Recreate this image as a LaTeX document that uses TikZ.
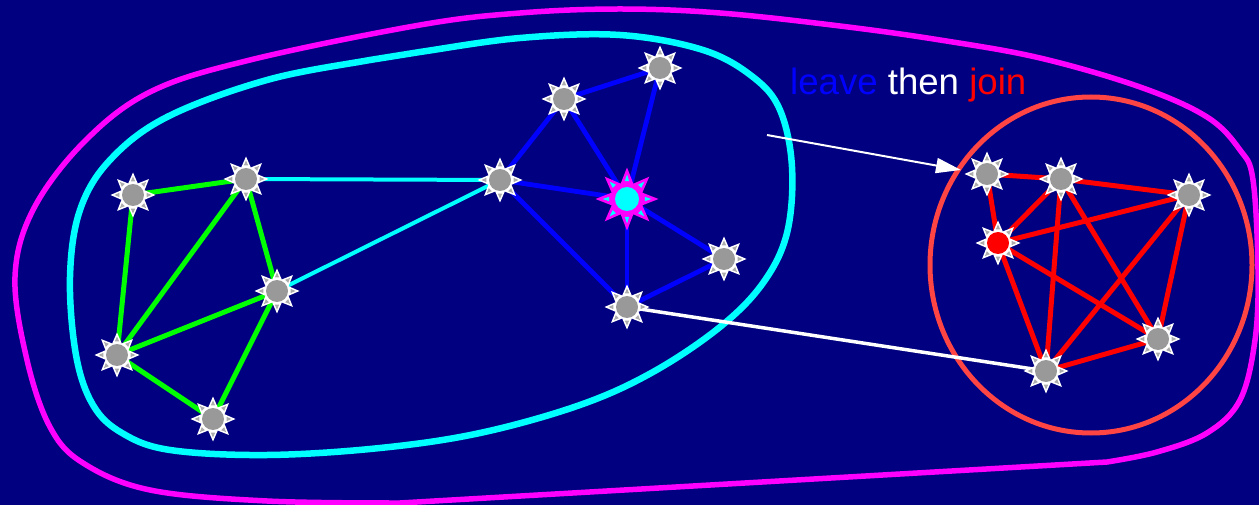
\documentclass[tikz,border=0pt]{standalone}
\usepackage{fontspec}
\setmainfont{Liberation Sans}
\usetikzlibrary{shapes.geometric,arrows.meta}
\definecolor{navybg}{HTML}{000080}
\definecolor{cyanc}{HTML}{00FFFF}
\definecolor{magc}{HTML}{FF00FF}
\definecolor{greenc}{HTML}{00FF00}
\definecolor{bluec}{HTML}{0000FF}
\definecolor{redc}{HTML}{FF0000}
\definecolor{ringred}{HTML}{FF4444}
\definecolor{nodegray}{HTML}{999999}
\pgfdeclarelayer{back}
\pgfdeclarelayer{edges}
\pgfsetlayers{back,edges,main}
\tikzset{
  peer/.style={star, star points=8, star point ratio=1.8, minimum size=45pt,
    inner sep=0pt, fill=white, draw=none,
    path picture={\begin{scope}[shift={(path picture bounding box.center)}]
      \fill[#1] (0,0) circle[radius=11pt];
      \foreach \a in {0,45,...,315}{\fill[gray!65] (\a:18.5pt) -- (\a+9:13.8pt) -- (\a-9:13.8pt) -- cycle;}
    \end{scope}}},
  peer/.default=nodegray,
  hub/.style={star, star points=8, star point ratio=1.9, minimum size=63pt,
    inner sep=0pt, fill=magc, draw=none,
    path picture={\begin{scope}[shift={(path picture bounding box.center)}]
      \fill[cyanc] (0,0) circle[radius=12pt];
      \foreach \a in {0,45,...,315}{\fill[cyanc] (\a:24.5pt) -- (\a+7:18pt) -- (\a-7:18pt) -- cycle;}
    \end{scope}}},
  gedge/.style={greenc, line width=5pt},
  cedge/.style={cyanc, line width=4pt},
  bedge/.style={bluec, line width=4.8pt},
  redge/.style={redc, line width=5pt},
  wedge/.style={white, line width=3.5pt},
  loopline/.style={line width=#1, line join=round},
}
\begin{document}
\begin{tikzpicture}[x=1pt,y=-1pt]
\useasboundingbox (0,0) rectangle (1259,505);
% nodes
\node[peer] (A) at (133,195) {};
\node[peer] (B) at (246,179) {};
\node[peer] (C) at (277,291) {};
\node[peer] (D) at (117,355) {};
\node[peer] (E) at (213,419) {};
\node[peer] (F) at (500,180) {};
\node[peer] (G) at (564,99) {};
\node[peer] (H) at (660,68) {};
\node[hub]  (I) at (627,199) {};
\node[peer] (J) at (724,259) {};
\node[peer] (K) at (627,307) {};
\node[peer] (M) at (987,174) {};
\node[peer] (N) at (1061,179) {};
\node[peer] (O) at (1189,195) {};
\node[peer=redc] (P) at (998,243) {};
\node[peer] (Q) at (1046,371) {};
\node[peer] (R) at (1158,339) {};
\node[anchor=base west, inner sep=0pt, font=\fontsize{36.6}{40}\selectfont] (lbl) at (790,95)
  {\textcolor{bluec}{leave} \textcolor{white}{then} \textcolor{redc}{join}};
\coordinate (arrS) at (767,135);
\coordinate (arrE) at (961,170);
\draw[white, line width=2pt, -{Triangle[length=25pt,width=15pt]}] (arrS) -- (arrE);
\begin{pgfonlayer}{back}
\fill[navybg] (0,0) rectangle (1259,505);
\draw[magc, loopline=5.5pt] plot[smooth, tension=0.6] coordinates {
 (1107,462) (1157,452) (1207,433) (1240,400) (1255,340) (1258,270) (1253,180)
 (1240,150) (1207,117) (1140,87) (1040,58) (940,40) (840,26) (720,13) (620,9)
 (520,13) (420,25) (250,60) (150,92) (83,143) (33,210) (15,277) (27,360)
 (50,427) (83,463) (150,490) (267,501) (400,503)} -- cycle;
\draw[cyanc, loopline=6.5pt] plot[smooth cycle, tension=0.6] coordinates {
 (420,52) (520,38) (620,35) (703,50) (753,77) (780,110) (792,167) (787,233)
 (763,283) (720,327) (653,372) (580,405) (480,433) (380,448) (267,455)
 (170,450) (122,433) (93,405) (76,355) (70,277) (80,210) (110,160) (167,117)
 (267,80) (370,60)};
\draw[ringred, line width=5pt] (1091,265) ellipse[x radius=161pt, y radius=168pt];
\end{pgfonlayer}
\begin{pgfonlayer}{edges}
\draw[gedge] (A.center) -- (B.center);
\draw[gedge] (A.center) -- (D.center);
\draw[gedge] (B.center) -- (D.center);
\draw[gedge] (B.center) -- (C.center);
\draw[gedge] (C.center) -- (D.center);
\draw[gedge] (C.center) -- (E.center);
\draw[gedge] (D.center) -- (E.center);
\draw[cedge] (B.center) -- (F.center);
\draw[cedge] (C.center) -- (F.center);
\draw[bedge] (F.center) -- (G.center);
\draw[bedge] (G.center) -- (H.center);
\draw[bedge] (G.center) -- (I.center);
\draw[bedge] (H.center) -- (I.center);
\draw[bedge] (F.center) -- (I.center);
\draw[bedge] (F.center) -- (K.center);
\draw[bedge] (I.center) -- (K.center);
\draw[bedge] (I.center) -- (J.center);
\draw[bedge] (K.center) -- (J.center);
\draw[wedge] (K.center) -- (Q.center);
\draw[redge] (M.center) -- (N.center);
\draw[redge] (N.center) -- (O.center);
\draw[redge] (M.center) -- (P.center);
\draw[redge] (N.center) -- (P.center);
\draw[redge] (P.center) -- (O.center);
\draw[redge] (P.center) -- (Q.center);
\draw[redge] (P.center) -- (R.center);
\draw[redge] (N.center) -- (Q.center);
\draw[redge] (N.center) -- (R.center);
\draw[redge] (O.center) -- (Q.center);
\draw[redge] (O.center) -- (R.center);
\draw[redge] (Q.center) -- (R.center);
\end{pgfonlayer}
\end{tikzpicture}
\end{document}
